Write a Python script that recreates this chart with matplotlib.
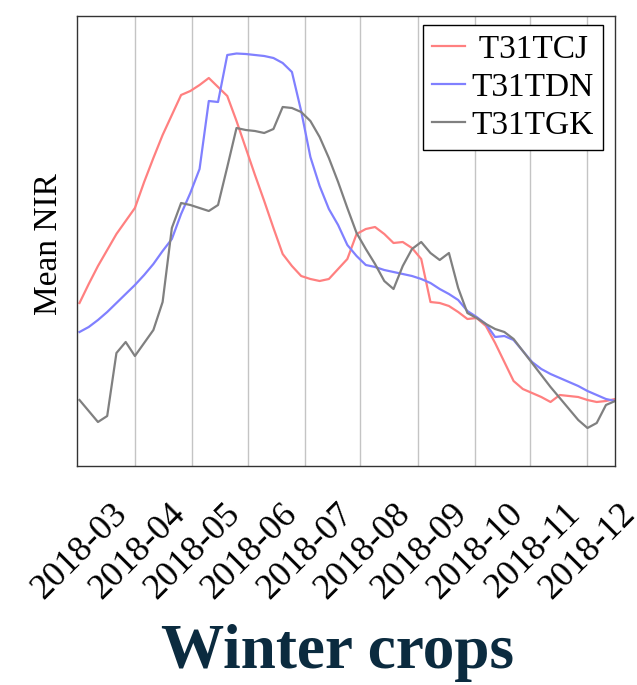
import numpy as np
import pandas as pd
import matplotlib
matplotlib.use("Agg")
import matplotlib.pyplot as plt
import matplotlib.dates as mdates

plt.rcParams['font.family'] = ['Liberation Serif', 'DejaVu Serif']

# ---- data (5-day composites, mean NIR, arbitrary reflectance units) ----
start_date = "2018-01-30"
n_dates = 59
series_names = ["T31TCJ", "T31TDN", "T31TGK"]

t31tcj = [1620, 1810, 1990, 2150, 2310, 2440, 2570, 2830, 3070, 3300,
          3500, 3700, 3740, 3800, 3870, 3780, 3690, 3440, 3170, 2900,
          2640, 2370, 2110, 1990, 1890, 1860, 1840, 1860, 1960, 2060,
          2310, 2360, 2380, 2310, 2220, 2230, 2170, 2060, 1630, 1620,
          1590, 1530, 1460, 1470, 1390, 1220, 1030, 840, 760, 720,
          680, 630, 700, 690, 680, 650, 630, 640, 660]

t31tdn = [1330, 1380, 1450, 1530, 1620, 1710, 1800, 1900, 2010, 2140,
          2260, 2510, 2720, 2960, 3640, 3630, 4100, 4115, 4110, 4100,
          4090, 4070, 4020, 3930, 3540, 3080, 2790, 2560, 2400, 2200,
          2090, 2000, 1980, 1950, 1930, 1910, 1890, 1860, 1820, 1760,
          1710, 1650, 1540, 1480, 1410, 1280, 1290, 1250, 1140, 1030,
          960, 910, 870, 830, 790, 740, 700, 660, 640]

t31tgk = [650, 540, 430, 490, 1120, 1230, 1090, 1220, 1350, 1630,
          2370, 2620, 2600, 2570, 2540, 2600, 2980, 3370, 3350, 3340,
          3320, 3360, 3580, 3570, 3530, 3440, 3280, 3070, 2830, 2570,
          2320, 2160, 2010, 1840, 1760, 1990, 2160, 2230, 2120, 2050,
          2120, 1770, 1520, 1470, 1410, 1360, 1330, 1260, 1140, 1020,
          900, 780, 670, 560, 450, 370, 420, 600, 640]

month_ticks = ["2018-03", "2018-04", "2018-05", "2018-06", "2018-07",
               "2018-08", "2018-09", "2018-10", "2018-11", "2018-12"]

colors = ["#ff8080", "#8080ff", "#808080"]

dates = pd.date_range(start_date, periods=n_dates, freq="5D")

fig = plt.figure(figsize=(6.37, 6.85), dpi=100)
ax = fig.add_axes([77 / 637, 1 - 466 / 685, 538 / 637, 450.5 / 685])

for vals, name, c in zip([t31tcj, t31tdn, t31tgk], series_names, colors):
    ax.plot(dates, vals, color=c, lw=1.6, label=name if name != "T31TCJ" else " " + name)

tick_dates = pd.to_datetime([m + "-01" for m in month_ticks])
ax.set_xticks(tick_dates)
ax.set_xticklabels([""] * len(tick_dates))
ax.set_xlim(dates[0] - pd.Timedelta(days=1.35), dates[-1] - pd.Timedelta(days=0.1))
ax.set_ylim(-10, 4495)
ax.tick_params(axis="x", length=0)
ax.set_yticks([])
ax.grid(axis="x", color="#c4c4c4", lw=1.0)
ax.set_axisbelow(True)
for sp in ax.spines.values():
    sp.set_color("#333333")
    sp.set_linewidth(1.0)

for d, lab in zip(tick_dates, month_ticks):
    ax.annotate(lab, xy=(mdates.date2num(d), 0), xycoords=("data", "axes fraction"),
                xytext=(-4.5, -35.5), textcoords="offset points",
                rotation=45, rotation_mode="anchor", ha="right", va="baseline",
                fontsize=26, annotation_clip=False)

ax.set_ylabel("Mean NIR", fontsize=24)
ax.yaxis.set_label_coords(-0.024, 0.493)

leg = ax.legend(loc="upper right", bbox_to_anchor=(0.9777, 0.9789), borderaxespad=0,
                fontsize=24, handlelength=1.0, handletextpad=0.18, borderpad=0.28,
                labelspacing=0.22, frameon=True, fancybox=False, framealpha=1)
leg.get_frame().set_edgecolor("black")
leg.get_frame().set_linewidth(1.0)

fig.text(337.5 / 637, 1 - 668 / 685, "Winter crops", ha="center", va="baseline",
         fontsize=45.5, fontweight="bold", color="#0b2b3f")

fig.savefig("out.png", dpi=100)
